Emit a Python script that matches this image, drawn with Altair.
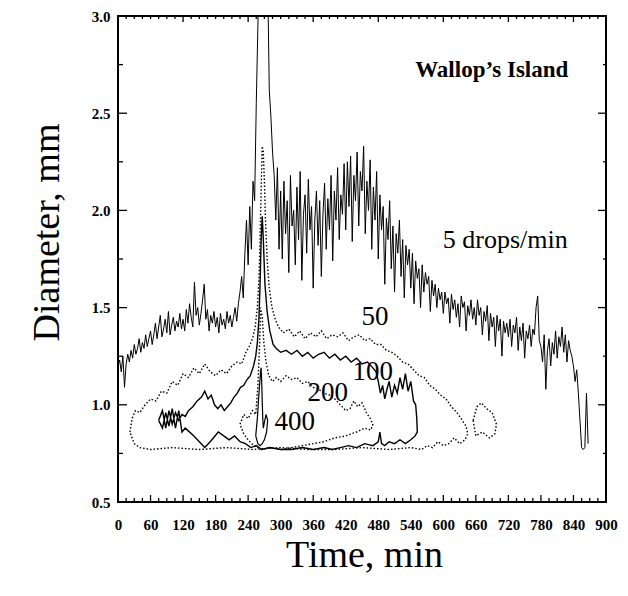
import altair as alt
import pandas as pd

# ---------------- data ----------------
# 5 drops/min median-diameter trace, sampled every 3 min from t = 0
drops_t = list(range(0, 870, 3))
drops_v = [
    # 0-57
    1.20, 1.23, 1.17, 1.25, 1.09, 1.21, 1.26, 1.22, 1.28, 1.24, 1.31, 1.26, 1.29, 1.34, 1.27, 1.32, 1.29, 1.36, 1.30, 1.34,
    # 60-117
    1.38, 1.31, 1.36, 1.42, 1.34, 1.40, 1.46, 1.35, 1.39, 1.44, 1.37, 1.48, 1.36, 1.41, 1.45, 1.38, 1.43, 1.40, 1.47, 1.39,
    # 120-177
    1.44, 1.38, 1.49, 1.42, 1.52, 1.45, 1.40, 1.63, 1.46, 1.50, 1.41, 1.47, 1.54, 1.62, 1.44, 1.49, 1.38, 1.46, 1.42, 1.48,
    # 180-237
    1.40, 1.45, 1.37, 1.47, 1.41, 1.44, 1.39, 1.48, 1.42, 1.46, 1.40, 1.45, 1.50, 1.43, 1.52, 1.58, 1.66, 1.55, 1.78, 1.95,
    # 240-297
    1.72, 2.02, 1.80, 2.15, 2.05, 2.55, 2.95, 3.40, 3.40, 3.40, 3.40, 3.40, 3.20, 2.62, 2.48, 2.30, 2.18, 1.95, 2.22, 1.80,
    # 300-357
    2.10, 1.75, 2.15, 1.88, 2.05, 1.68, 2.18, 1.92, 2.00, 1.72, 2.12, 1.85, 2.20, 1.64, 1.98, 2.08, 1.78, 2.16, 1.90, 2.02,
    # 360-417
    1.60, 1.95, 2.10, 1.82, 2.05, 1.66, 1.98, 2.14, 1.80, 2.06, 1.90, 2.18, 1.74, 2.10, 1.95, 2.22, 1.85, 2.08, 1.98, 2.24,
    # 420-477
    1.90, 2.25, 2.02, 2.28, 1.84, 2.18, 2.05, 2.30, 1.92, 2.20, 2.10, 2.33, 1.88, 2.15, 2.00, 2.26, 1.80, 2.12, 1.95, 2.20,
    # 480-537
    1.75, 2.08, 1.90, 2.02, 1.62, 1.96, 1.85, 2.05, 1.70, 1.92, 1.58, 1.88, 1.78, 1.95, 1.66, 1.85, 1.55, 1.82, 1.72, 1.80,
    # 540-597
    1.60, 1.78, 1.52, 1.74, 1.65, 1.70, 1.50, 1.72, 1.58, 1.68, 1.62, 1.66, 1.48, 1.64, 1.56, 1.62, 1.50, 1.60, 1.54, 1.58,
    # 600-657
    1.47, 1.58, 1.52, 1.55, 1.42, 1.57, 1.49, 1.54, 1.45, 1.52, 1.40, 1.56, 1.50, 1.53, 1.38, 1.51, 1.46, 1.54, 1.44, 1.50,
    # 660-717
    1.41, 1.54, 1.46, 1.50, 1.36, 1.48, 1.43, 1.51, 1.33, 1.47, 1.40, 1.45, 1.30, 1.46, 1.38, 1.44, 1.25, 1.43, 1.37, 1.42,
    # 720-777
    1.35, 1.44, 1.30, 1.41, 1.37, 1.45, 1.28, 1.40, 1.33, 1.42, 1.24, 1.38, 1.34, 1.41, 1.30, 1.39, 1.36, 1.50, 1.56, 1.33,
    # 780-837
    1.30, 1.22, 1.36, 1.08, 1.28, 1.34, 1.20, 1.32, 1.26, 1.38, 1.24, 1.35, 1.30, 1.40, 1.27, 1.36, 1.22, 1.33, 1.28, 1.25,
    # 840-867
    1.20, 1.12, 1.18, 1.06, 0.92, 0.78, 0.77, 0.78, 1.06, 0.80,
]

# contour of 50 drops/min (closed loop, clockwise)
c50_t = [22, 26, 32, 40, 50, 60, 70, 80, 90, 100, 110, 120, 130, 140, 150, 160,
         170, 180, 190, 200, 210, 220, 228, 236, 242, 248, 253, 257, 260, 262,
         264, 266, 268, 270, 272, 275, 279, 284, 290, 296, 305, 315, 325, 335,
         345, 355, 365, 375, 385, 395, 405, 415, 425, 435, 445, 455, 465, 475,
         485, 495, 505, 515, 525, 535, 545, 555, 565, 575, 585, 595, 605, 615,
         625, 635, 642, 645, 640, 630, 620, 610, 600, 590, 580, 570, 560, 540,
         500, 450, 400, 350, 300, 250, 200, 150, 100, 60, 40, 30, 22]
c50_v = [0.86, 0.93, 0.97, 0.96, 1.00, 1.03, 1.02, 1.07, 1.06, 1.12, 1.10, 1.16,
         1.14, 1.19, 1.16, 1.21, 1.17, 1.15, 1.18, 1.16, 1.20, 1.22, 1.21, 1.27,
         1.30, 1.34, 1.40, 1.50, 1.65, 1.85, 2.10, 2.33, 2.30, 2.15, 1.95, 1.75,
         1.60, 1.50, 1.44, 1.40, 1.37, 1.39, 1.35, 1.38, 1.34, 1.37, 1.35, 1.38,
         1.34, 1.36, 1.35, 1.37, 1.33, 1.35, 1.36, 1.33, 1.34, 1.31, 1.31, 1.28,
         1.27, 1.25, 1.22, 1.21, 1.18, 1.15, 1.14, 1.10, 1.08, 1.05, 1.03, 0.99,
         0.96, 0.92, 0.89, 0.85, 0.82, 0.80, 0.83, 0.80, 0.79, 0.81, 0.78, 0.79,
         0.77, 0.78, 0.77, 0.78, 0.77, 0.77, 0.78, 0.77, 0.78, 0.77, 0.78, 0.77,
         0.78, 0.80, 0.86]

# detached patch of the 50 contour
c50b_t = [655, 662, 670, 680, 690, 698, 695, 685, 672, 660, 655]
c50b_v = [0.92, 0.99, 1.01, 0.98, 0.96, 0.90, 0.85, 0.83, 0.86, 0.84, 0.92]

# contour of 100 drops/min
c100_t = [75, 82, 88, 94, 100, 106, 112, 118, 124, 130, 138, 146, 154, 160, 166,
          172, 178, 184, 190, 196, 202, 208, 214, 220, 226, 232, 238, 244, 250,
          254, 257, 260, 262, 264, 266, 268, 271, 275, 280, 286, 292, 300, 310,
          320, 330, 340, 350, 360, 370, 380, 390, 400, 410, 420, 430, 440, 450,
          460, 470, 476, 480, 484, 488, 492, 496, 500, 505, 510, 515, 520, 525,
          530, 535, 540, 545, 549, 551, 552, 548, 540, 530, 520, 510, 500, 492,
          486, 483, 480, 470, 455, 440, 425, 410, 395, 380, 360, 340, 320, 300,
          280, 265, 255, 245, 235, 225, 215, 205, 195, 185, 170, 160, 150, 140,
          124, 118, 112, 106, 100, 94, 88, 82, 75]
c100_v = [0.92, 0.97, 0.88, 0.97, 0.90, 0.96, 0.92, 0.95, 0.94, 0.97, 0.99, 1.02,
          1.04, 1.07, 1.03, 1.05, 1.00, 0.98, 1.00, 0.97, 0.99, 1.01, 1.04, 1.06,
          1.09, 1.10, 1.13, 1.15, 1.20, 1.25, 1.32, 1.45, 1.62, 1.85, 1.97, 1.85,
          1.62, 1.48, 1.38, 1.31, 1.29, 1.27, 1.28, 1.26, 1.28, 1.25, 1.27, 1.24,
          1.26, 1.27, 1.24, 1.26, 1.23, 1.25, 1.22, 1.24, 1.21, 1.22, 1.19, 1.17,
          1.12, 1.06, 1.10, 1.03, 1.08, 1.12, 1.04, 1.10, 1.06, 1.14, 1.08, 1.16,
          1.07, 1.12, 1.02, 1.00, 0.93, 0.86, 0.84, 0.82, 0.80, 0.82, 0.80, 0.81,
          0.79, 0.80, 0.86, 0.81, 0.79, 0.80, 0.78, 0.79, 0.78, 0.77, 0.78, 0.77,
          0.78, 0.77, 0.77, 0.78, 0.77, 0.79, 0.78, 0.80, 0.81, 0.84, 0.82, 0.84,
          0.86, 0.81, 0.78, 0.81, 0.84, 0.88, 0.86, 0.97, 0.88, 0.98, 0.89, 0.96,
          0.88, 0.92]

# contour of 200 drops/min
c200_t = [225, 232, 240, 248, 254, 258, 261, 263, 266, 269, 273, 278, 285, 292,
          300, 310, 320, 330, 340, 350, 360, 370, 380, 390, 400, 410, 420, 428,
          435, 442, 450, 458, 465, 470, 466, 455, 440, 420, 400, 380, 360, 340,
          320, 300, 280, 265, 250, 240, 232, 225]
c200_v = [0.90, 0.95, 0.93, 0.97, 0.95, 1.10, 1.30, 1.50, 1.45, 1.32, 1.22, 1.15,
          1.12, 1.14, 1.12, 1.15, 1.13, 1.14, 1.11, 1.12, 1.09, 1.08, 1.06, 1.05,
          1.03, 1.00, 0.97, 0.98, 1.02, 0.99, 1.01, 0.96, 0.93, 0.90, 0.87, 0.88,
          0.86, 0.84, 0.83, 0.81, 0.80, 0.79, 0.78, 0.77, 0.78, 0.77, 0.79, 0.82,
          0.85, 0.90]

# contour of 400 drops/min
c400_t = [254, 257, 259, 261, 263, 264, 265, 266, 267, 268, 270, 273, 276, 274,
          270, 266, 262, 258, 254]
c400_v = [0.84, 0.93, 1.02, 1.10, 1.17, 1.19, 1.12, 1.02, 0.93, 0.88, 0.91, 0.95,
          0.92, 0.86, 0.82, 0.80, 0.79, 0.80, 0.84]

# annotations (text, time, diameter)
site_label = ["Wallop\u2019s Island"]
site_t = [548]
site_v = [2.72]
drops_label = ["5 drops/min"]
drops_lt = [599]
drops_lv = [1.85]
level_labels = ["50", "100", "200", "400"]
level_t = [474, 470, 387, 326]
level_v = [1.45, 1.17, 1.06, 0.91]

# axis ticks
x_major = [0, 60, 120, 180, 240, 300, 360, 420, 480, 540, 600, 660, 720, 780, 840, 900]
x_minor = [t for t in range(0, 901, 15) if t % 60]
x_top_major = [0, 120, 240, 360, 480, 600, 720, 840]
x_top_minor = [t for t in range(0, 901, 15) if t % 120]
y_major = [0.5, 1.0, 1.5, 2.0, 2.5, 3.0]
y_minor = [0.75, 1.25, 1.75, 2.25, 2.75]

# ---------------- chart ----------------
FONT = "Liberation Serif"
xs = alt.Scale(domain=[0, 900], nice=False, zero=False)
ys = alt.Scale(domain=[0.5, 3.0], nice=False, zero=False)

X_AXIS = alt.Axis(
    values=x_major, ticks=False, tickSize=0, domain=False, grid=False,
    labelPadding=15, labelFont=FONT, labelFontSize=15, labelFontWeight="bold",
    labelColor="black", labelFlush=False, labelOverlap=False,
    title="Time, min", titleFont=FONT, titleFontSize=38, titleFontWeight="normal",
    titleColor="black", titleX=246, titleY=64, titleAlign="center",
    titleBaseline="alphabetic")
Y_AXIS = alt.Axis(
    values=y_major, format=".1f", ticks=False, tickSize=0, domain=False, grid=False,
    labelPadding=8, labelFont=FONT, labelFontSize=15, labelFontWeight="bold",
    labelColor="black", labelFlush=False, labelOverlap=False,
    title="Diameter, mm", titleFont=FONT, titleFontSize=38, titleFontWeight="normal",
    titleColor="black", titleAngle=270, titleX=-60, titleY=216, titleAlign="center",
    titleBaseline="alphabetic")


def X(field=None, datum=None):
    if datum is not None:
        return alt.X(datum=datum, scale=xs, axis=X_AXIS)
    return alt.X(field, scale=xs, axis=X_AXIS)


def Y(field=None, datum=None):
    if datum is not None:
        return alt.Y(datum=datum, scale=ys, axis=Y_AXIS)
    return alt.Y(field, scale=ys, axis=Y_AXIS)


def loop_df(ts, vs):
    return pd.DataFrame({"t": ts, "v": vs, "i": list(range(len(ts)))})


drops_df = loop_df(drops_t, drops_v)

main = alt.Chart(drops_df).mark_line(color="black", strokeWidth=1.0, clip=True).encode(
    x=X("t:Q"), y=Y("v:Q"), order="i:Q",
)


# inward tick marks on the frame: centred on the edge, outer half clipped away
def x_ticks(values, edge, length):
    df = pd.DataFrame({"tick": values})
    return alt.Chart(df).mark_tick(
        orient="vertical", size=2 * length, thickness=1.3, color="black",
        clip=True, opacity=1,
    ).encode(x=X("tick:Q"), y=Y(datum=edge))


def y_ticks(values, edge, length):
    df = pd.DataFrame({"tick": values})
    return alt.Chart(df).mark_tick(
        orient="horizontal", size=2 * length, thickness=1.3, color="black",
        clip=True, opacity=1,
    ).encode(y=Y("tick:Q"), x=X(datum=edge))


ticks = [
    x_ticks(x_major, 0.5, 7), x_ticks(x_minor, 0.5, 4),
    x_ticks(x_top_major, 3.0, 6), x_ticks(x_top_minor, 3.0, 3),
    y_ticks(y_major, 0, 9), y_ticks(y_minor, 0, 5),
    y_ticks(y_major, 900, 8), y_ticks(y_minor, 900, 3),
]


def contour(ts, vs, dashed, width=1.4):
    kw = dict(color="black", strokeWidth=width, clip=True)
    if dashed:
        kw["strokeDash"] = [1.5, 2]
    return alt.Chart(loop_df(ts, vs)).mark_line(**kw).encode(
        x=X("t:Q"), y=Y("v:Q"), order="i:Q",
    )


c50 = contour(c50_t, c50_v, True)
c50b = contour(c50b_t, c50b_v, True)
c100 = contour(c100_t, c100_v, False)
c200 = contour(c200_t, c200_v, True)
c400 = contour(c400_t, c400_v, False, 1.2)


def text_layer(labels, ts, vs, size, weight, align):
    df = pd.DataFrame({"label": labels, "t": ts, "v": vs})
    return alt.Chart(df).mark_text(
        font=FONT, fontSize=size, fontWeight=weight, align=align,
        baseline="middle", color="black",
    ).encode(x=X("t:Q"), y=Y("v:Q"), text="label:N")


site_txt = text_layer(site_label, site_t, site_v, 23, "bold", "left")
drops_txt = text_layer(drops_label, drops_lt, drops_lv, 26, "normal", "left")
level_txt = text_layer(level_labels, level_t, level_v, 27, "normal", "center")

chart = alt.layer(
    main, c50, c50b, c200, c100, c400, *ticks,
    site_txt, drops_txt, level_txt,
).properties(
    width=488, height=486,
    padding={"left": 118, "top": 16, "right": 22, "bottom": 94},
    autosize=alt.AutoSizeParams(type="none"),
    background="white",
).configure(
    font=FONT
).configure_view(
    stroke="black", strokeWidth=2
)

chart.save("out.html", embed_options={"renderer": "svg", "actions": False})
